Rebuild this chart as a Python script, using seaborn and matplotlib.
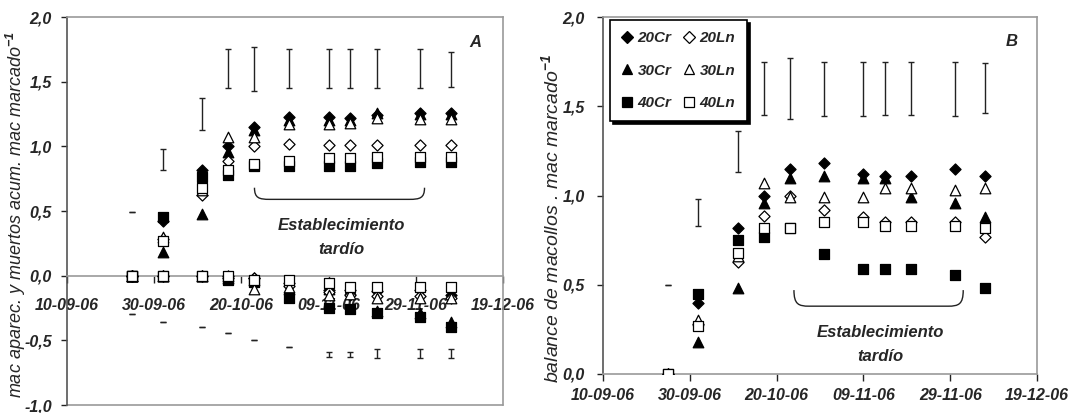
import matplotlib
matplotlib.use("Agg")
import matplotlib.pyplot as plt
import matplotlib.dates as mdates
from matplotlib.path import Path
from matplotlib.patches import PathPatch
from matplotlib.lines import Line2D
from matplotlib.ticker import FuncFormatter, MultipleLocator
import seaborn as sns
import numpy as np
import pandas as pd

# ---------------- data ----------------
dates = ["2006-09-25", "2006-10-02", "2006-10-11", "2006-10-17", "2006-10-23", "2006-10-31",
         "2006-11-09", "2006-11-14", "2006-11-20", "2006-11-30", "2006-12-07"]
series = ["20Cr", "30Cr", "40Cr", "20Ln", "30Ln", "40Ln"]

# Panel A: accumulated appeared tillers (positive)
a_20Cr = [0, 0.42, 0.82, 1.00, 1.15, 1.23, 1.23, 1.22, 1.24, 1.26, 1.26]
a_30Cr = [0, 0.18, 0.48, 0.96, 1.13, 1.20, 1.20, 1.20, 1.26, 1.25, 1.25]
a_40Cr = [0, 0.45, 0.76, 0.78, 0.85, 0.85, 0.85, 0.85, 0.87, 0.88, 0.88]
a_20Ln = [0, 0.28, 0.62, 0.89, 1.00, 1.02, 1.01, 1.01, 1.01, 1.01, 1.01]
a_30Ln = [0, 0.30, 0.66, 1.07, 1.07, 1.17, 1.17, 1.18, 1.22, 1.21, 1.21]
a_40Ln = [0, 0.27, 0.68, 0.82, 0.86, 0.89, 0.91, 0.91, 0.92, 0.92, 0.92]
# Panel A: accumulated dead tillers (negative)
m_20Cr = [0, 0, 0, -0.02, -0.02, -0.06, -0.11, -0.11, -0.12, -0.11, -0.15]
m_30Cr = [0, 0, 0, -0.02, -0.03, -0.10, -0.10, -0.10, -0.27, -0.29, -0.36]
m_40Cr = [0, 0, 0, -0.03, -0.05, -0.17, -0.25, -0.26, -0.29, -0.32, -0.40]
m_20Ln = [0, 0, 0, 0, -0.02, -0.08, -0.13, -0.15, -0.16, -0.16, -0.17]
m_30Ln = [0, 0, 0, 0, -0.10, -0.09, -0.15, -0.14, -0.17, -0.17, -0.17]
m_40Ln = [0, 0, 0, 0, -0.03, -0.03, -0.06, -0.09, -0.09, -0.09, -0.09]
# Panel B: tiller balance
b_20Cr = [0, 0.40, 0.82, 1.00, 1.15, 1.18, 1.12, 1.11, 1.11, 1.15, 1.11]
b_30Cr = [0, 0.18, 0.48, 0.96, 1.10, 1.11, 1.10, 1.10, 0.99, 0.96, 0.88]
b_40Cr = [0, 0.45, 0.75, 0.77, 0.82, 0.67, 0.59, 0.59, 0.59, 0.555, 0.48]
b_20Ln = [0, 0.28, 0.63, 0.885, 1.00, 0.92, 0.88, 0.85, 0.85, 0.85, 0.77]
b_30Ln = [0, 0.30, 0.66, 1.07, 0.99, 0.99, 0.99, 1.04, 1.04, 1.03, 1.04]
b_40Ln = [0, 0.27, 0.68, 0.82, 0.82, 0.85, 0.85, 0.83, 0.83, 0.83, 0.82]

# error bars (low / high)
eA_up_lo = [0.49, 0.82, 1.13, 1.45, 1.43, 1.45, 1.45, 1.45, 1.45, 1.45, 1.46]
eA_up_hi = [0.49, 0.98, 1.37, 1.75, 1.77, 1.75, 1.75, 1.75, 1.75, 1.75, 1.73]
eA_dn_lo = [-0.30, -0.36, -0.40, -0.44, -0.50, -0.55, -0.63, -0.63, -0.64, -0.64, -0.64]
eA_dn_hi = [-0.30, -0.36, -0.40, -0.44, -0.50, -0.55, -0.59, -0.59, -0.57, -0.57, -0.57]
eB_lo = [0.50, 0.83, 1.13, 1.45, 1.43, 1.445, 1.445, 1.45, 1.45, 1.445, 1.46]
eB_hi = [0.50, 0.98, 1.36, 1.75, 1.77, 1.75, 1.75, 1.75, 1.75, 1.75, 1.74]

xtick_dates = ["2006-09-10", "2006-09-30", "2006-10-20", "2006-11-09", "2006-11-29", "2006-12-19"]
brace_A = ("2006-10-23", "2006-12-01", 0.68, 0.59)
brace_B = ("2006-10-24", "2006-12-02", 0.47, 0.38)
note_A = ("2006-11-12", 0.39, 0.20)
note_B = ("2006-11-13", 0.235, 0.10)
note_text = ["Establecimiento", "tardío"]

# ---------------- style ----------------
sns.set_theme(style="white")
plt.rcParams["font.family"] = ["Liberation Sans", "DejaVu Sans"]
plt.rcParams["font.weight"] = "bold"
plt.rcParams["font.style"] = "italic"
plt.rcParams["mathtext.fontset"] = "custom"
plt.rcParams["mathtext.rm"] = "Liberation Sans:italic:bold"
plt.rcParams["mathtext.it"] = "Liberation Sans:italic:bold"
plt.rcParams["mathtext.default"] = "rm"

marker_of = {"20": "D", "30": "^", "40": "s"}
size_of = {"D": 32, "^": 58, "s": 58}

def mstyle(name):
    m = marker_of[name[:2]]
    face = "black" if name.endswith("Cr") else "white"
    return m, face

dts = pd.to_datetime(pd.Series(dates))
xt = pd.to_datetime(xtick_dates)

fig = plt.figure(figsize=(10.68, 4.13), dpi=100)
W, H = 1068, 413
axA = fig.add_axes([67 / W, 1 - 405 / H, (503 - 67) / W, (405 - 17) / H])
axB = fig.add_axes([603 / W, 1 - 374 / H, (1037 - 603) / W, (374 - 17) / H])

frame_col = "#9a9a9a"
dark = "#222222"
comma_fmt = FuncFormatter(lambda v, p: f"{v:.1f}".replace(".", ","))


def draw_points(ax, dct, z0=3):
    for i, name in enumerate(series):
        m, face = mstyle(name)
        sns.scatterplot(x=dts, y=dct[name], ax=ax, marker=m, s=size_of[m], color=face,
                        edgecolor="black", linewidth=0.9, zorder=z0 + i, legend=False)


def draw_err(ax, lo, hi):
    lo = np.array(lo); hi = np.array(hi)
    ax.errorbar(dts, (lo + hi) / 2, yerr=(hi - lo) / 2, fmt="none", ecolor=dark,
                elinewidth=1.0, capsize=2.3, capthick=1.0, zorder=2)


def draw_brace(ax, spec):
    x0, x1, yt, yb = spec
    x0 = mdates.date2num(pd.Timestamp(x0)); x1 = mdates.date2num(pd.Timestamp(x1))
    dx = 3.5
    verts = [(x0, yt), (x0, yb + 0.01), (x0 + dx * 0.3, yb), (x0 + dx, yb),
             (x1 - dx, yb), (x1 - dx * 0.3, yb), (x1, yb + 0.01), (x1, yt)]
    codes = [Path.MOVETO, Path.CURVE4, Path.CURVE4, Path.CURVE4,
             Path.LINETO, Path.CURVE4, Path.CURVE4, Path.CURVE4]
    ax.add_patch(PathPatch(Path(verts, codes), fill=False, edgecolor=dark, lw=1.0, zorder=2))


def draw_note(ax, spec):
    xd, y1, y2 = spec
    x = pd.Timestamp(xd)
    ax.text(x, y1, note_text[0], ha="center", va="center", fontsize=12)
    ax.text(x, y2, note_text[1], ha="center", va="center", fontsize=12)


def style_axes(ax, ypad, xpad):
    ax.set_xlim(xt[0], xt[-1])
    ax.xaxis.set_major_locator(matplotlib.ticker.FixedLocator(mdates.date2num(xt)))
    ax.xaxis.set_major_formatter(mdates.DateFormatter("%d-%m-%y"))
    ax.yaxis.set_major_locator(MultipleLocator(0.5))
    ax.yaxis.set_major_formatter(comma_fmt)
    for s in ["top", "right", "bottom"]:
        ax.spines[s].set_color(frame_col)
        ax.spines[s].set_linewidth(1.2)
    ax.spines["left"].set_color("#555555")
    ax.spines["left"].set_linewidth(1.2)
    ax.tick_params(axis="y", direction="out", length=4, width=1, color=dark, pad=ypad,
                   labelsize=11.5, left=True)
    ax.tick_params(axis="x", direction="out", length=5, width=1, color=dark, pad=xpad,
                   labelsize=11.5, bottom=True)
    ax.set_xlabel("")
    ax.grid(False)


# ---------------- panel A ----------------
A_pos = dict(zip(series, [a_20Cr, a_30Cr, a_40Cr, a_20Ln, a_30Ln, a_40Ln]))
A_neg = dict(zip(series, [m_20Cr, m_30Cr, m_40Cr, m_20Ln, m_30Ln, m_40Ln]))
draw_err(axA, eA_up_lo, eA_up_hi)
draw_err(axA, eA_dn_lo, eA_dn_hi)
draw_points(axA, A_neg, 3)
draw_points(axA, A_pos, 10)
style_axes(axA, 7, 11)
axA.set_ylim(-1, 2)
axA.spines["bottom"].set_position(("data", 0))
axA.axhline(-1, color=frame_col, lw=1.2, clip_on=False, zorder=1)
axA.set_ylabel("mac aparec. y muertos acum. mac marcado$^{-1}$", fontsize=13)
axA.yaxis.set_label_coords(-0.09, 0.49)
draw_brace(axA, brace_A)
draw_note(axA, note_A)
axA.text(0.936, 0.933, "A", transform=axA.transAxes, ha="center", va="center", fontsize=12)

# ---------------- panel B ----------------
B_val = dict(zip(series, [b_20Cr, b_30Cr, b_40Cr, b_20Ln, b_30Ln, b_40Ln]))
draw_err(axB, eB_lo, eB_hi)
draw_points(axB, B_val, 3)
style_axes(axB, 9, 5)
axB.set_ylim(0, 2)
axB.set_ylabel("balance de macollos . mac marcado$^{-1}$", fontsize=14)
axB.yaxis.set_label_coords(-0.095, 0.437)
draw_brace(axB, brace_B)
draw_note(axB, note_B)
axB.text(0.942, 0.93, "B", transform=axB.transAxes, ha="center", va="center", fontsize=12)

order = ["20Cr", "30Cr", "40Cr", "20Ln", "30Ln", "40Ln"]
handles = []
for name in order:
    m, face = mstyle(name)
    handles.append(Line2D([], [], ls="none", marker=m, markerfacecolor=face,
                          markeredgecolor="black", markeredgewidth=0.9,
                          markersize=7.5 if m != "D" else 5.8))
leg = axB.legend(handles, order, ncol=2, loc="upper left", bbox_to_anchor=(0.016, 0.992),
                 borderaxespad=0, frameon=True, fancybox=False,
                 shadow={"color": "black", "alpha": 1},
                 edgecolor="black", fontsize=11, handlelength=0.7, handletextpad=0.35,
                 columnspacing=0.8, labelspacing=1.2, borderpad=0.75, framealpha=1)
leg.get_frame().set_linewidth(1.2)

fig.savefig("out.png", dpi=100)
